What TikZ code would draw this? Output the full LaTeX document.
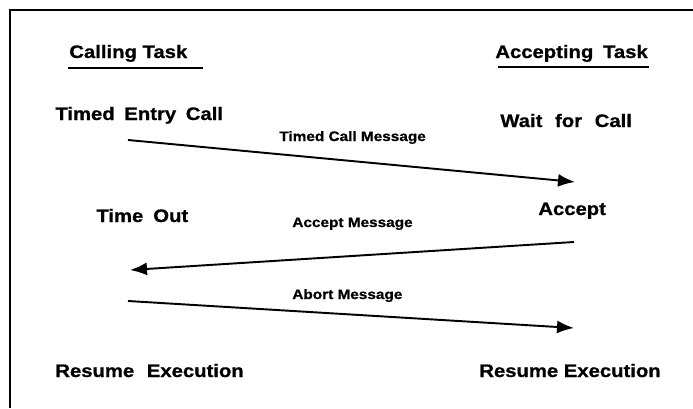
\documentclass[tikz,border=0pt]{standalone}
\usepackage{fontspec}
\newfontfamily\taskfont{Liberation Sans}[FakeStretch=1.12, BoldFeatures={FakeBold=0.8}]
\usetikzlibrary{arrows.meta}

\begin{document}
\begin{tikzpicture}[big/.style={anchor=base west, inner sep=0pt, font=\taskfont\bfseries\fontsize{10.3}{12}\selectfont},
	msglbl/.style={anchor=base west, inner sep=0pt, font=\taskfont\bfseries\fontsize{7.8}{9}\selectfont},
	msg/.style={line width=1.1pt, -{Latex[length=3.4mm,width=2.6mm]}}]
	\useasboundingbox (0,0) rectangle (13.86,8.16);
	\draw[line width=1pt] (0.2,0) -- (0.2,7.96) -- (13.86,7.96);
	\node[big] (calling) at (1.38,7.00) {Calling Task};
	\draw[line width=0.9pt] (1.36,6.80) -- (4.06,6.80);
	\node[big] (accepting) at (9.90,7.00) {Accepting\hspace{2.3pt} Task};
	\draw[line width=0.9pt] (9.96,6.82) -- (12.98,6.82);
	\node[big] (timedentry) at (1.10,5.76) {Timed\hspace{2.3pt} Entry\hspace{2.3pt} Call};
	\node[big] (wait) at (10.00,5.62) {Wait\hspace{4pt} for\hspace{4pt} Call};
	\node[big] (timeout) at (1.92,3.72) {Time\hspace{2.5pt} Out};
	\node[big] (accept) at (10.76,3.86) {Accept};
	\node[big] (resumeL) at (1.10,0.62) {Resume\hspace{4pt} Execution};
	\node[big] (resumeR) at (9.58,0.62) {Resume Execution};
	\coordinate (c1) at (2.56,5.36);
	\coordinate (a1) at (11.50,4.52);
	\coordinate (a2) at (11.48,3.32);
	\coordinate (c2) at (2.60,2.76);
	\coordinate (c3) at (2.56,2.14);
	\coordinate (a3) at (11.48,1.60);
	\draw[msg] (c1) -- (a1);
	\draw[msg] (a2) -- (c2);
	\draw[msg] (c3) -- (a3);
	\node[msglbl] (callmsg) at (5.58,5.34) {Timed Call Message};
	\node[msglbl] (acceptmsg) at (5.84,3.62) {Accept Message};
	\node[msglbl] (abortmsg) at (5.84,2.18) {Abort Message};
\end{tikzpicture}
\end{document}
